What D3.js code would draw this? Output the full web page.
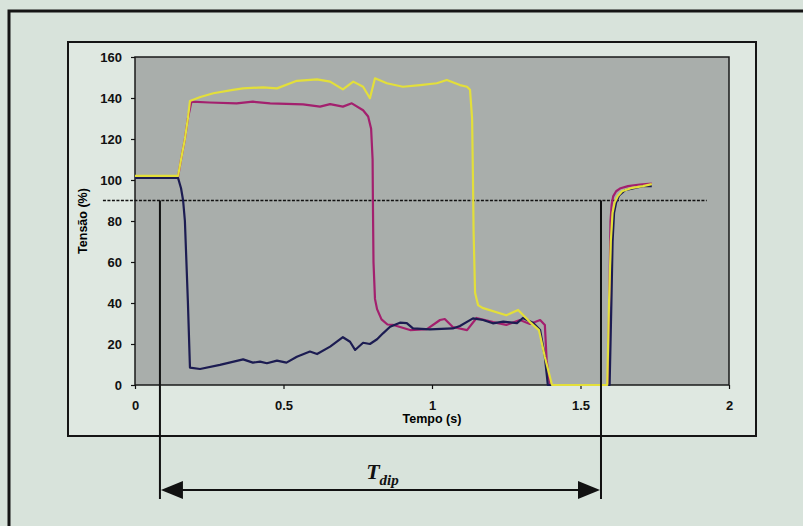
<!DOCTYPE html>
<html>
<head>
<meta charset="utf-8">
<script src="https://cdn.jsdelivr.net/npm/d3@7/dist/d3.min.js"></script>
<style>
  html, body { margin: 0; padding: 0; background: #d8e3db; }
  svg { display: block; }
  .axis text { font-family: "Liberation Sans", Arial, sans-serif; font-weight: bold; font-size: 13px; fill: #111; }
  .axis line { stroke: #111; stroke-width: 1.2; }
  .axis .domain { display: none; }
</style>
</head>
<body>
<div id="graph"></div>
<script>
// time (s) / voltage (%), one array per phase
var yellowData = [
  [0, 102], [0.145, 102], [0.155, 110], [0.168, 120], [0.178, 130], [0.185, 138.5],
  [0.22, 140.5], [0.264, 142.3], [0.33, 144], [0.364, 144.7], [0.431, 145.2], [0.478, 144.7],
  [0.545, 148.4], [0.613, 149.1], [0.657, 148], [0.70, 144.2], [0.735, 148], [0.768, 145.5],
  [0.791, 139.9], [0.808, 149.6], [0.848, 147.2], [0.902, 145.5], [0.96, 146.3], [1.016, 147.2],
  [1.05, 148.8], [1.094, 146.3], [1.118, 145.5], [1.128, 144], [1.135, 130], [1.138, 100],
  [1.14, 75], [1.145, 45], [1.155, 39], [1.17, 37.6], [1.25, 34], [1.29, 36.6], [1.33, 30.7],
  [1.36, 26.8], [1.38, 13.7], [1.404, 0], [1.59, 0], [1.596, 40], [1.602, 70], [1.608, 84],
  [1.615, 89], [1.625, 92], [1.64, 94.5], [1.67, 96], [1.71, 97], [1.74, 98]
];

var magentaData = [
  [0, 101.5], [0.145, 101.5], [0.155, 110], [0.168, 120], [0.178, 130], [0.19, 138.2],
  [0.25, 137.8], [0.342, 137.4], [0.397, 138.2], [0.455, 137.4], [0.566, 136.9], [0.623, 135.8],
  [0.657, 137], [0.70, 135.8], [0.73, 137.4], [0.768, 134], [0.785, 131], [0.795, 125],
  [0.8, 110], [0.801, 90], [0.803, 60], [0.808, 42], [0.815, 37], [0.83, 32], [0.85, 29.5],
  [0.87, 29.3], [0.926, 26.8], [0.983, 27.3], [1.027, 31.7], [1.043, 32.2], [1.07, 28.3],
  [1.118, 26.8], [1.15, 32.7], [1.206, 30.7], [1.25, 29.3], [1.296, 31.7], [1.33, 29.8],
  [1.364, 31.7], [1.38, 29.3], [1.386, 12], [1.397, 0], [1.592, 0], [1.597, 40], [1.601, 80],
  [1.605, 88], [1.61, 92], [1.62, 94.5], [1.635, 96], [1.66, 97], [1.70, 97.8], [1.74, 98.3]
];

var blueData = [
  [0, 101], [0.145, 101], [0.155, 96], [0.162, 90], [0.168, 80], [0.178, 41], [0.185, 8.5],
  [0.219, 7.8], [0.286, 9.8], [0.364, 12.5], [0.397, 10.9], [0.421, 11.4], [0.444, 10.6],
  [0.478, 11.9], [0.51, 10.9], [0.545, 13.8], [0.589, 16.3], [0.613, 15.1], [0.657, 18.7],
  [0.70, 23.3], [0.724, 21.1], [0.741, 17.1], [0.768, 20.6], [0.791, 20], [0.815, 22.3],
  [0.835, 25.2], [0.859, 28.4], [0.892, 30.4], [0.915, 30.2], [0.936, 27.6], [0.993, 27.1],
  [1.07, 27.6], [1.094, 28.8], [1.138, 32.5], [1.172, 31.7], [1.205, 30.1], [1.24, 30.9],
  [1.286, 30.2], [1.306, 32.7], [1.34, 30.4], [1.364, 26.8], [1.38, 13.7], [1.39, 0],
  [1.598, 0], [1.604, 40], [1.608, 70], [1.613, 84], [1.62, 89], [1.63, 92.5], [1.65, 95],
  [1.68, 96], [1.71, 97], [1.74, 97]
];

var xTicks = [0, 0.5, 1, 1.5, 2];
var yTicks = [0, 20, 40, 60, 80, 100, 120, 140, 160];

var thresholdLevel = 90;      // dashed 90 % line
var dipStart = 0.084, dipEnd = 1.569;   // T_dip markers (s)

var width = 803, height = 526;
var margin = { top: 57, left: 135, right: 74, bottom: 141 };
var chartWidth = width - margin.left - margin.right;
var chartHeight = height - margin.top - margin.bottom;

var xScale = d3.scaleLinear().domain([0, 2]).range([0, chartWidth]);
var yScale = d3.scaleLinear().domain([0, 160]).range([chartHeight, 0]);

var svg = d3.select("#graph").append("svg")
  .attr("width", width).attr("height", height);

// page frame (scan edge)
svg.append("path")
  .attr("d", "M9," + height + "V11H" + width)
  .attr("fill", "none").attr("stroke", "#151515").attr("stroke-width", 3);

// chart box
svg.append("rect")
  .attr("x", 68).attr("y", 42).attr("width", 688).attr("height", 394)
  .attr("fill", "#dfe8e1").attr("stroke", "#151515").attr("stroke-width", 2);

var chartLayer = svg.append("g")
  .attr("transform", "translate(" + [margin.left, margin.top] + ")");

chartLayer.append("rect")
  .attr("width", chartWidth).attr("height", chartHeight)
  .attr("fill", "#a9aeab").attr("stroke", "#1a1a1a").attr("stroke-width", 1.5);

var yAxis = d3.axisLeft(yScale).tickValues(yTicks).tickSize(4).tickPadding(9);
var xAxis = d3.axisBottom(xScale).tickValues(xTicks).tickSize(4).tickPadding(12)
  .tickFormat(d3.format("~g"));

chartLayer.append("g").attr("class", "axis y").call(yAxis);
chartLayer.append("g").attr("class", "axis x")
  .attr("transform", "translate(0," + chartHeight + ")").call(xAxis);

chartLayer.append("text")
  .attr("x", xScale(1)).attr("y", chartHeight + 38)
  .attr("text-anchor", "middle")
  .attr("font-family", "Liberation Sans, Arial, sans-serif")
  .attr("font-weight", "bold").attr("font-size", 12.5)
  .text("Tempo (s)");

chartLayer.append("text")
  .attr("transform", "translate(" + [-48, chartHeight / 2] + ")rotate(-90)")
  .attr("text-anchor", "middle")
  .attr("font-family", "Liberation Sans, Arial, sans-serif")
  .attr("font-weight", "bold").attr("font-size", 12.5)
  .text("Tensão (%)");

// dashed threshold line
chartLayer.append("line")
  .attr("x1", xScale(-0.108)).attr("x2", xScale(1.925))
  .attr("y1", yScale(thresholdLevel)).attr("y2", yScale(thresholdLevel))
  .attr("stroke", "#111").attr("stroke-width", 1.5)
  .attr("stroke-dasharray", "3,1.5");

var line = d3.line()
  .x(function(d) { return xScale(d[0]); })
  .y(function(d) { return yScale(d[1]); });

var series = [
  { data: magentaData, color: "#a3206e" },
  { data: blueData, color: "#1c1c52" },
  { data: yellowData, color: "#e3df3a" }
];

chartLayer.selectAll(".series")
  .data(series)
  .enter().append("path")
  .attr("class", "series")
  .attr("d", function(d) { return line(d.data); })
  .attr("fill", "none")
  .attr("stroke", function(d) { return d.color; })
  .attr("stroke-width", 2.2)
  .attr("stroke-linejoin", "round");

// T_dip dimension
var arrowY = 490 - margin.top;
var markBottom = 499 - margin.top;
[dipStart, dipEnd].forEach(function(t) {
  chartLayer.append("line")
    .attr("x1", xScale(t)).attr("x2", xScale(t))
    .attr("y1", yScale(thresholdLevel)).attr("y2", markBottom)
    .attr("stroke", "#111").attr("stroke-width", 2);
});

var xa = xScale(dipStart), xb = xScale(dipEnd);
chartLayer.append("line")
  .attr("x1", xa + 10).attr("x2", xb - 10)
  .attr("y1", arrowY).attr("y2", arrowY)
  .attr("stroke", "#111").attr("stroke-width", 2);

chartLayer.append("path")
  .attr("d", "M" + (xa + 1) + "," + arrowY + "L" + (xa + 23) + "," + (arrowY - 9) +
    "L" + (xa + 23) + "," + (arrowY + 9) + "Z")
  .attr("fill", "#111");
chartLayer.append("path")
  .attr("d", "M" + (xb - 1) + "," + arrowY + "L" + (xb - 23) + "," + (arrowY - 9) +
    "L" + (xb - 23) + "," + (arrowY + 9) + "Z")
  .attr("fill", "#111");

var tdip = chartLayer.append("text")
  .attr("x", (xa + xb) / 2 + 2).attr("y", 479 - margin.top)
  .attr("text-anchor", "middle")
  .attr("font-family", "Liberation Serif, Times New Roman, serif")
  .attr("font-weight", "bold").attr("font-style", "italic")
  .attr("font-size", 22)
  .attr("fill", "#111");
tdip.append("tspan").text("T");
tdip.append("tspan").attr("font-size", 15).attr("dy", 6).text("dip");
</script>
</body>
</html>
